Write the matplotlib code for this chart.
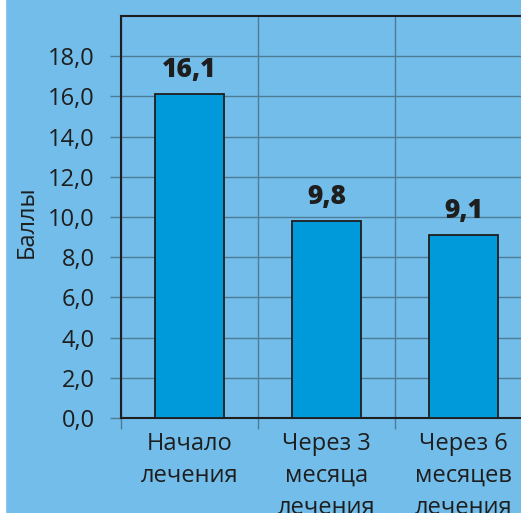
import numpy as np
import matplotlib.pyplot as plt
from matplotlib.ticker import FixedLocator

# data
categories = ["Начало\nлечения", "Через 3\nмесяца\nлечения", "Через 6\nмесяцев\nлечения"]
values = [16.1, 9.8, 9.1]
value_labels = ["16,1", "9,8", "9,1"]
y_ticks = [0, 2, 4, 6, 8, 10, 12, 14, 16, 18]
y_tick_labels = ["0,0", "2,0", "4,0", "6,0", "8,0", "10,0", "12,0", "14,0", "16,0", "18,0"]

bg = "#72bdea"
bar_color = "#0099d9"
grid_color = "#4f7b96"
dark = "#1e1e1e"

plt.rcParams['font.family'] = ['Open Sans', 'DejaVu Sans']

W, H = 521, 513
fig = plt.figure(figsize=(W / 100, H / 100), dpi=100)
fig.patch.set_facecolor(bg)
# white strip on the left edge
fig.add_artist(plt.Rectangle((0, 0), 5 / W, 1, transform=fig.transFigure, color="white", zorder=0))

ax = fig.add_axes([121 / W, 95 / H, 411 / W, 402 / H])
ax.set_facecolor(bg)

x = np.arange(len(categories))
ax.bar(x, values, width=0.5, color=bar_color, edgecolor=dark, linewidth=1.3, zorder=3)

for xi, v, lab in zip(x, values, value_labels):
    ax.text(xi, v + 0.55, lab, ha="center", va="bottom", fontsize=19, fontweight=800, color=dark)

ax.set_xlim(-0.5, len(categories) - 0.5)
ax.set_ylim(0, 20)

ax.set_yticks(y_ticks)
ax.set_yticklabels(y_tick_labels, fontsize=17, color=dark)
ax.yaxis.grid(True, color=grid_color, linewidth=1.0, zorder=1)

ax.set_xticks(x)
ax.set_xticklabels(categories, fontsize=17, color=dark, linespacing=1.45)
ax.tick_params(axis="x", length=0, pad=10)
ax.xaxis.set_minor_locator(FixedLocator(np.arange(-0.5, len(categories), 1.0)))
ax.tick_params(axis="x", which="minor", length=8, width=1, color=grid_color, direction="out")
ax.xaxis.grid(True, which="minor", color=grid_color, linewidth=1.0, zorder=1)
ax.tick_params(axis="y", length=8, width=1, color=grid_color, pad=11)

for s in ["left", "bottom", "top"]:
    ax.spines[s].set_color(dark)
    ax.spines[s].set_linewidth(1.5)
ax.spines["right"].set_visible(False)

fig.text(26.5 / W, 1 - 222 / H, "Баллы", rotation=90, ha="center", va="center",
         fontsize=17, color=dark)

fig.savefig("out.png", dpi=100, facecolor=bg)
